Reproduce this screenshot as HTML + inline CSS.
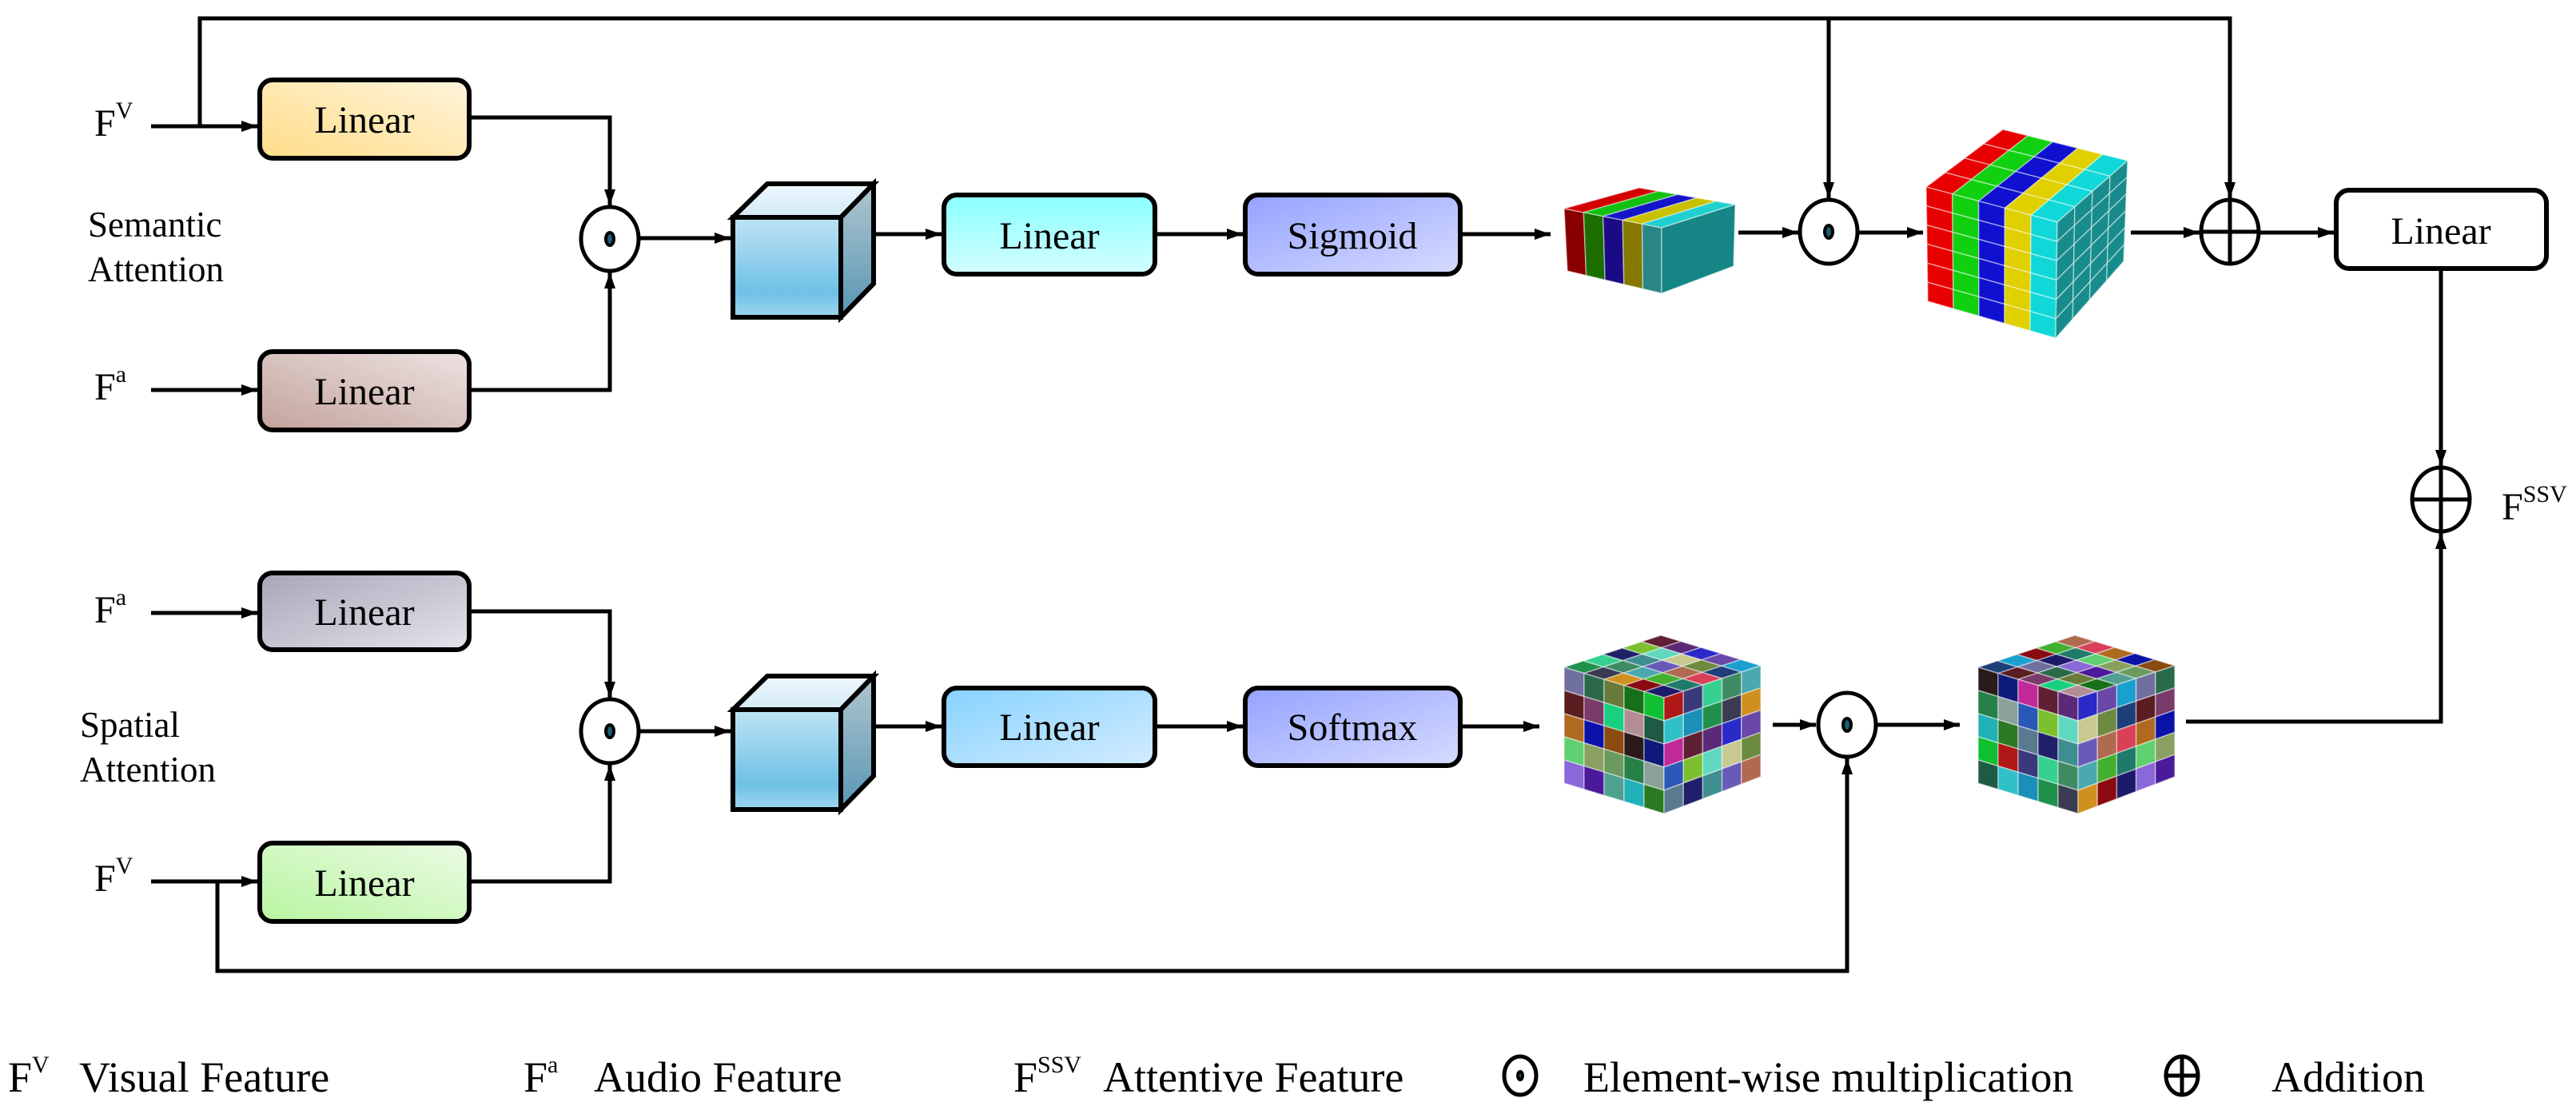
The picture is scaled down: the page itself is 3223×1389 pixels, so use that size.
<!DOCTYPE html>
<html><head><meta charset="utf-8"><style>
html,body{margin:0;padding:0;background:#fff;}
svg{display:block;}
svg text{font-family:"Liberation Serif","Times New Roman",Times,serif !important;fill:#000;}
</style></head><body>
<svg id="s" width="3223" height="1389" viewBox="0 0 3223 1389" xmlns="http://www.w3.org/2000/svg" font-family="Liberation Serif, Times New Roman, serif">
<defs>
<marker id="ah" markerWidth="10" markerHeight="10" refX="9" refY="5" orient="auto" markerUnits="userSpaceOnUse" viewBox="0 0 10 10" style="overflow:visible">
<path d="M0,-2 L20,5 L0,12 z" fill="#000" transform="translate(-11,0)"/>
</marker>
<linearGradient id="gY" x1="0" y1="1" x2="1" y2="0"><stop offset="0" stop-color="#ffdd88"/><stop offset="1" stop-color="#fff4dc"/></linearGradient>
<linearGradient id="gB" x1="0" y1="1" x2="1" y2="0"><stop offset="0" stop-color="#c3a39b"/><stop offset="1" stop-color="#ede3e2"/></linearGradient>
<linearGradient id="gC" x1="0" y1="0" x2="0" y2="1"><stop offset="0" stop-color="#88ffff"/><stop offset="1" stop-color="#d4ffff"/></linearGradient>
<linearGradient id="gP" x1="0" y1="0" x2="1" y2="1"><stop offset="0" stop-color="#94a2ff"/><stop offset="1" stop-color="#d6dcff"/></linearGradient>
<linearGradient id="gG" x1="0" y1="0" x2="1" y2="1"><stop offset="0" stop-color="#a6a6b8"/><stop offset="1" stop-color="#e4e4ec"/></linearGradient>
<linearGradient id="gL" x1="0" y1="0" x2="1" y2="1"><stop offset="0" stop-color="#86d2ff"/><stop offset="1" stop-color="#d4ecff"/></linearGradient>
<linearGradient id="gN" x1="0" y1="1" x2="1" y2="0"><stop offset="0" stop-color="#b8f5a0"/><stop offset="1" stop-color="#ebfbe4"/></linearGradient>
<linearGradient id="cf" x1="0" y1="0" x2="0" y2="1"><stop offset="0" stop-color="#bfe3f4"/><stop offset="0.75" stop-color="#6fc1e6"/><stop offset="1" stop-color="#9fd6ef"/></linearGradient>
<linearGradient id="ct" x1="0" y1="0" x2="0" y2="1"><stop offset="0" stop-color="#eef7fd"/><stop offset="1" stop-color="#d3eaf6"/></linearGradient>
<linearGradient id="cs" x1="0" y1="0" x2="0" y2="1"><stop offset="0" stop-color="#b1c5cf"/><stop offset="1" stop-color="#5897b4"/></linearGradient>
</defs>

<g fill="none" stroke="#000" stroke-width="5">
<polyline points="250,158 250,23 2790,23 2790,248" marker-end="url(#ah)"/>
<polyline points="2288,23 2288,248" marker-end="url(#ah)"/>
<line x1="189" y1="158" x2="322" y2="158" marker-end="url(#ah)"/>
<line x1="189" y1="488" x2="322" y2="488" marker-end="url(#ah)"/>
<polyline points="587,147 763,147 763,257" marker-end="url(#ah)"/>
<polyline points="587,488 763,488 763,341" marker-end="url(#ah)"/>
<line x1="801" y1="298" x2="914" y2="298" marker-end="url(#ah)"/>
<line x1="1093" y1="293" x2="1178" y2="293" marker-end="url(#ah)"/>
<line x1="1445" y1="293" x2="1555" y2="293" marker-end="url(#ah)"/>
<line x1="1827" y1="293" x2="1940" y2="293" marker-end="url(#ah)"/>
<line x1="2175" y1="291" x2="2250" y2="291" marker-end="url(#ah)"/>
<line x1="2325" y1="291" x2="2406" y2="291" marker-end="url(#ah)"/>
<line x1="2666" y1="291" x2="2752" y2="291" marker-end="url(#ah)"/>
<line x1="2826" y1="291" x2="2920" y2="291" marker-end="url(#ah)"/>
<line x1="3054" y1="336" x2="3054" y2="583" marker-end="url(#ah)"/>
<line x1="189" y1="767" x2="322" y2="767" marker-end="url(#ah)"/>
<line x1="189" y1="1103" x2="322" y2="1103" marker-end="url(#ah)"/>
<polyline points="587,765 763,765 763,873" marker-end="url(#ah)"/>
<polyline points="587,1103 763,1103 763,957" marker-end="url(#ah)"/>
<line x1="801" y1="915" x2="914" y2="915" marker-end="url(#ah)"/>
<line x1="1093" y1="909" x2="1178" y2="909" marker-end="url(#ah)"/>
<line x1="1445" y1="909" x2="1555" y2="909" marker-end="url(#ah)"/>
<line x1="1827" y1="909" x2="1926" y2="909" marker-end="url(#ah)"/>
<line x1="2218" y1="907" x2="2272" y2="907" marker-end="url(#ah)"/>
<line x1="2347" y1="907" x2="2452" y2="907" marker-end="url(#ah)"/>
<polyline points="272,1103 272,1215 2311,1215 2311,949" marker-end="url(#ah)"/>
<polyline points="2735,903 3054,903 3054,667" marker-end="url(#ah)"/>
</g>

<g stroke="#000" stroke-width="6">
<rect x="325" y="100" width="262" height="98" rx="16" fill="url(#gY)"/>
<rect x="325" y="440" width="262" height="98" rx="16" fill="url(#gB)"/>
<rect x="1181" y="244" width="264" height="99" rx="16" fill="url(#gC)"/>
<rect x="1558" y="244" width="269" height="99" rx="16" fill="url(#gP)"/>
<rect x="2923" y="238" width="263" height="98" rx="16" fill="#fff"/>
<rect x="325" y="717" width="262" height="96" rx="16" fill="url(#gG)"/>
<rect x="1181" y="861" width="264" height="97" rx="16" fill="url(#gL)"/>
<rect x="1558" y="861" width="269" height="97" rx="16" fill="url(#gP)"/>
<rect x="325" y="1055" width="262" height="98" rx="16" fill="url(#gN)"/>
</g>
<g font-size="48" text-anchor="middle" font-family="Liberation Serif, serif">
<text x="456" y="166">Linear</text>
<text x="456" y="506">Linear</text>
<text x="1313" y="311">Linear</text>
<text x="1692" y="311">Sigmoid</text>
<text x="3054" y="305">Linear</text>
<text x="456" y="782">Linear</text>
<text x="1313" y="926">Linear</text>
<text x="1692" y="926">Softmax</text>
<text x="456" y="1121">Linear</text>
</g>

<g stroke="#000" stroke-width="6" stroke-linejoin="miter">
<polygon points="917,272 960,230 1093,230 1052,272" fill="url(#ct)"/>
<polygon points="1052,272 1093,230 1093,355 1052,397" fill="url(#cs)"/>
<rect x="917" y="272" width="135" height="125" fill="url(#cf)"/>
<polygon points="917,888 960,846 1093,846 1052,888" fill="url(#ct)"/>
<polygon points="1052,888 1093,846 1093,971 1052,1013" fill="url(#cs)"/>
<rect x="917" y="888" width="135" height="125" fill="url(#cf)"/>
</g>

<g id="cubes"></g>

<g fill="#fff" stroke="#000" stroke-width="5">
<ellipse cx="763" cy="299" rx="36" ry="40"/>
<ellipse cx="763" cy="915" rx="36" ry="40"/>
<ellipse cx="2288" cy="290" rx="36" ry="40"/>
<ellipse cx="2311" cy="907" rx="36" ry="40"/>
<ellipse cx="2790" cy="290" rx="36" ry="40"/>
<ellipse cx="3054" cy="625" rx="36" ry="40"/>
<ellipse cx="1902" cy="1346" rx="20" ry="24"/>
<ellipse cx="2730" cy="1346" rx="20" ry="24"/>
</g>
<g fill="#1b5f78" stroke="#000" stroke-width="4">
<ellipse cx="763" cy="299" rx="5" ry="8"/>
<ellipse cx="763" cy="915" rx="5" ry="8"/>
<ellipse cx="2288" cy="290" rx="5" ry="8"/>
<ellipse cx="2311" cy="907" rx="5" ry="8"/>
<ellipse cx="1902" cy="1346" rx="3" ry="5"/>
</g>
<g stroke="#000" stroke-width="5">
<line x1="2754" y1="290" x2="2826" y2="290"/><line x1="2790" y1="250" x2="2790" y2="330"/>
<line x1="3018" y1="625" x2="3090" y2="625"/><line x1="3054" y1="585" x2="3054" y2="665"/>
<line x1="2710" y1="1346" x2="2750" y2="1346"/><line x1="2730" y1="1322" x2="2730" y2="1370"/>
</g>

<g font-size="48" font-family="Liberation Serif, serif">
<text x="118" y="170">F<tspan font-size="30" dy="-22">V</tspan></text>
<text x="118" y="500">F<tspan font-size="30" dy="-22">a</tspan></text>
<text x="118" y="779">F<tspan font-size="30" dy="-22">a</tspan></text>
<text x="118" y="1115">F<tspan font-size="30" dy="-22">V</tspan></text>
<text x="3130" y="650">F<tspan font-size="30" dy="-22">SSV</tspan></text>
<text x="110" y="296" font-size="45">Semantic</text>
<text x="110" y="352" font-size="45">Attention</text>
<text x="100" y="922" font-size="45">Spatial</text>
<text x="100" y="978" font-size="45">Attention</text>
</g>
<g font-size="54" font-family="Liberation Serif, serif">
<text x="10" y="1366">F<tspan font-size="30" dy="-24">V</tspan></text>
<text x="99" y="1366">Visual Feature</text>
<text x="655" y="1366">F<tspan font-size="30" dy="-24">a</tspan></text>
<text x="743" y="1366">Audio  Feature</text>
<text x="1268" y="1366">F<tspan font-size="30" dy="-24">SSV</tspan></text>
<text x="1380" y="1366">Attentive Feature</text>
<text x="1981" y="1366">Element-wise multiplication</text>
<text x="2842" y="1366">Addition</text>
</g>
</svg>
<script>
(function(){
var NS="http://www.w3.org/2000/svg",g=document.getElementById("cubes");
function bil(q,u,v){var a=q[0],b=q[1],c=q[2],d=q[3];
return [(1-u)*(1-v)*a[0]+u*(1-v)*b[0]+(1-u)*v*c[0]+u*v*d[0],(1-u)*(1-v)*a[1]+u*(1-v)*b[1]+(1-u)*v*c[1]+u*v*d[1]];}
function face(q,nu,nv,col,op){
for(var i=0;i<nu;i++)for(var j=0;j<nv;j++){
var p=[bil(q,i/nu,j/nv),bil(q,(i+1)/nu,j/nv),bil(q,(i+1)/nu,(j+1)/nv),bil(q,i/nu,(j+1)/nv)];
var e=document.createElementNS(NS,"polygon");
e.setAttribute("points",p.map(function(x){return x[0].toFixed(1)+","+x[1].toFixed(1)}).join(" "));
e.setAttribute("fill",col(i,j));e.setAttribute("stroke","rgba(255,255,255,0.45)");e.setAttribute("stroke-width","1.5");
if(op)e.setAttribute("fill-opacity",op);
g.appendChild(e);}}
var sc=["#8a0000","#1c6e00","#1a0a86","#877800","#2a8686"];
var tc=["#d40000","#12c012","#1414c8","#c8c000","#20d0d0"];
face([[1957,261],[2079,285],[1961,339],[2079,367]],5,1,function(i){return sc[i]});
face([[2051,235],[2171,256],[1957,261],[2079,285]],5,1,function(i){return tc[i]});
face([[2079,285],[2171,256],[2079,367],[2169,333]],1,1,function(){return "#158585"});
var fc=["#e80000","#10d010","#1010d0","#e0d000","#10d8d8"];
face([[2506,162],[2662,201],[2410,234],[2574,278]],5,4,function(i){return fc[i]});
face([[2410,234],[2574,278],[2412,377],[2572,423]],5,6,function(i){return fc[i]});
face([[2574,278],[2662,201],[2572,423],[2657,327]],4,6,function(){return "#188c8c"});
var pal=["#1a8fb8","#8aa19a","#176f1a","#0b12a8","#1c1a6a","#6c8a40","#3f8a62","#5f1f34","#2a7a24","#b28d94","#8aa060","#7070a0","#b06a50","#3a3a52","#7cc030","#b01818","#2a1a1a","#4a1a9a","#5a1e20","#44b030","#2a2ac8","#20206a","#30c0c8","#268048","#6a7a3a","#b06a20","#8a0a10","#c8c890","#36d090","#c02a98","#22b0b8","#18d080","#60d070","#1aa0d0","#6a5ab8","#20904a","#2a58b8","#10c030","#8a4a10","#8a68d8","#1e3e7a","#4aa8b0","#5a2a78","#5a7a90","#1e5a44","#6a9a60","#2a6a4a","#d84058","#d09020","#60d8c0","#3a3a7a","#0e1a7a","#50a090","#7a3a6a","#1e7a6a","#6a48a8","#3e8e90"];
function mos(ox){
var T=[2078+ox,795],L=[1957+ox,835],R=[2203+ox,833],F=[2082+ox,873],h=145;
var k=0;function c(){k++;return pal[(k*7+ox)%pal.length]}
face([T,R,L,F],5,5,function(){return c()});
face([L,F,[L[0],L[1]+h],[F[0],F[1]+h]],5,5,function(){return c()});
face([F,R,[F[0],F[1]+h],[R[0],R[1]+h-6]],5,5,function(){return c()});}
mos(0);mos(518);
})();
</script>
</body></html>
